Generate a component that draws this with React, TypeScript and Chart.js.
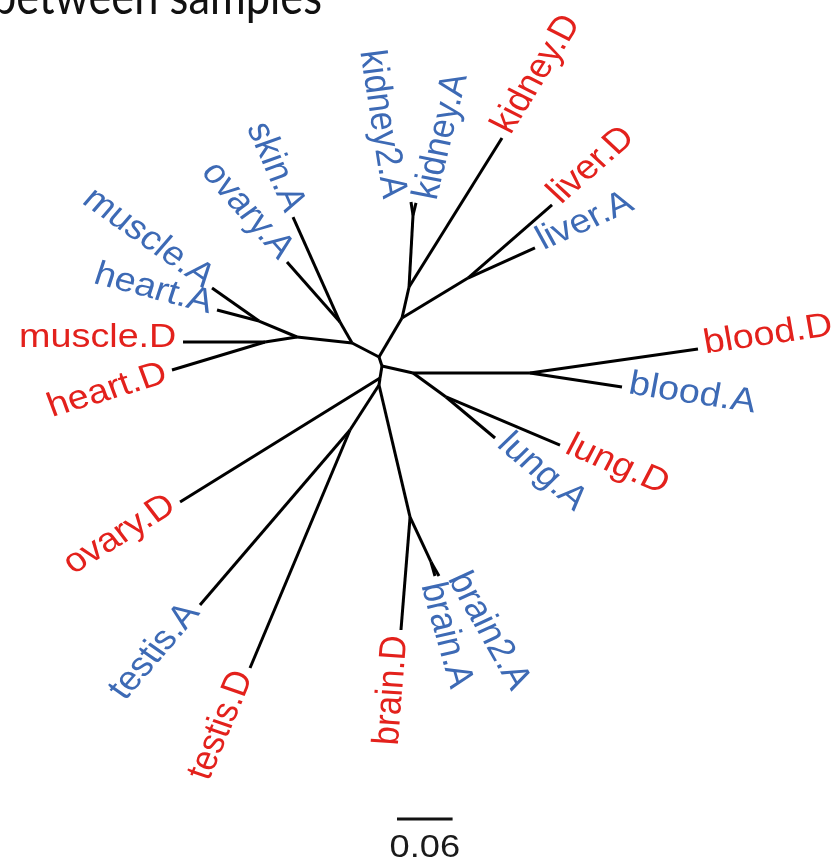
import React, { useEffect, useRef } from "react";
import { Chart, registerables } from "chart.js";

Chart.register(...registerables);

// ---------------- data (tree distances, unrooted layout) ----------------
const TITLE = "between samples";

const INTERNAL_IDS = ["c0", "c1", "c2", "c3", "u1", "so", "mh", "ma", "md", "k1", "k2", "k3", "lv", "r", "bl", "lg", "ts", "br", "ba"];
const INTERNAL_PARENT = [null, "c0", "c1", "c2", "c0", "u1", "u1", "mh", "mh", "c0", "k1", "k2", "k1", "c1", "r", "r", "c3", "c3", "br"];
const INTERNAL_X = [0, 0.0032, 0.0011, 0, -0.0291, -0.0421, -0.0885, -0.1295, -0.123, 0.0248, 0.0324, 0.0367, 0.096, 0.0367, 0.1629, 0.0723, -0.0313, 0.0335, 0.0561];
const INTERNAL_Y = [0, -0.0117, -0.0272, -0.0363, 0.0181, 0.0453, 0.0259, 0.0466, 0.0194, 0.0505, 0.0907, 0.1839, 0.1023, -0.0207, -0.0207, -0.0518, -0.0946, -0.2073, -0.2655];

const TIP_LABELS = ["skin.A", "ovary.A", "muscle.A", "heart.A", "muscle.D", "heart.D", "kidney2.A", "kidney.A", "kidney.D", "liver.D", "liver.A", "blood.D", "blood.A", "lung.A", "lung.D", "brain.A", "brain2.A", "brain.D", "ovary.D", "testis.A", "testis.D"];
const TIP_PARENT = ["so", "so", "ma", "ma", "md", "md", "k3", "k3", "k2", "lv", "lv", "bl", "bl", "lg", "lg", "ba", "ba", "br", "c2", "ts", "ts"];
const TIP_X = [-0.0928, -0.0993, -0.1802, -0.1748, -0.2115, -0.2234, 0.0345, 0.0399, 0.1327, 0.1867, 0.1683, 0.3442, 0.2622, 0.1252, 0.1953, 0.0604, 0.0647, 0.0237, -0.2147, -0.1932, -0.1392];
const TIP_Y = [0.1813, 0.1231, 0.0894, 0.0609, 0.0194, -0.0168, 0.2008, 0.1995, 0.2837, 0.1969, 0.1412, 0.0104, -0.0389, -0.1049, -0.114, -0.2837, -0.2837, -0.3536, -0.1878, -0.3212, -0.4028];

const SCALE_LABEL = "0.06";
const SCALE_LENGTH = 0.06;
const SCALE_START_X = 0.0194;
const SCALE_Y = -0.5984;

// ---------------- view / style ----------------
const X_MIN = -0.409;
const X_MAX = 0.4899;
const Y_MIN = -0.6541;
const Y_MAX = 0.4624;

const STRETCH = 1.11;
const LABEL_SIZE = 34;
const LABEL_GAP = 6;
const LABEL_LIFT = 4;
const LABEL_NUDGE: Record<string, number> = {
  "kidney2.A": 19,
  "kidney.A": 12,
  "brain.A": 9,
  "brain2.A": -11,
  "heart.D": 5,
};
const RED = "#E3211C";
const BLUE = "#3D6AB5";
const LINE = "#000000";

function nodePos(id: string) {
  const i = INTERNAL_IDS.indexOf(id);
  return { x: INTERNAL_X[i], y: INTERNAL_Y[i] };
}

function buildEdges() {
  const edges: { x: number; y: number }[][] = [];
  INTERNAL_IDS.forEach((id, i) => {
    const p = INTERNAL_PARENT[i];
    if (p) edges.push([nodePos(p), { x: INTERNAL_X[i], y: INTERNAL_Y[i] }]);
  });
  TIP_LABELS.forEach((_, i) => {
    edges.push([nodePos(TIP_PARENT[i]), { x: TIP_X[i], y: TIP_Y[i] }]);
  });
  return edges;
}

const labelPlugin = {
  id: "treeLabels",
  afterDatasetsDraw(chart: any) {
    const ctx: CanvasRenderingContext2D = chart.ctx;
    const xs = chart.scales.x;
    const ys = chart.scales.y;

    // tip labels
    ctx.save();
    ctx.font = `${LABEL_SIZE}px "Liberation Sans", Arial, sans-serif`;
    ctx.textBaseline = "middle";
    TIP_LABELS.forEach((label, i) => {
      const par = nodePos(TIP_PARENT[i]);
      const tx = xs.getPixelForValue(TIP_X[i]);
      const ty = ys.getPixelForValue(TIP_Y[i]);
      const px = xs.getPixelForValue(par.x);
      const py = ys.getPixelForValue(par.y);
      const theta = Math.atan2(ty - py, (tx - px) / STRETCH);
      const flip = Math.cos(theta) < 0;
      ctx.save();
      ctx.translate(tx, ty);
      ctx.scale(STRETCH, 1);
      ctx.rotate(flip ? theta + Math.PI : theta);
      ctx.textAlign = flip ? "right" : "left";
      ctx.fillStyle = label.endsWith(".D") ? RED : BLUE;
      const nudge = LABEL_NUDGE[label] ?? 0;
      ctx.fillText(label, flip ? -LABEL_GAP : LABEL_GAP, -LABEL_LIFT + nudge);
      ctx.restore();
    });
    ctx.restore();

    // scale bar label
    ctx.save();
    const cx = xs.getPixelForValue(SCALE_START_X + SCALE_LENGTH / 2);
    const cy = ys.getPixelForValue(SCALE_Y);
    ctx.translate(cx, cy + 38);
    ctx.scale(1.17, 1);
    ctx.font = `31px "Liberation Sans", Arial, sans-serif`;
    ctx.textAlign = "center";
    ctx.textBaseline = "alphabetic";
    ctx.fillStyle = "#1a1a1a";
    ctx.fillText(SCALE_LABEL, 0, 0);
    ctx.restore();

    // cropped title
    ctx.save();
    ctx.font = `50px Lato, "Open Sans", sans-serif`;
    const w = ctx.measureText(TITLE).width;
    ctx.translate(-8, 13.5);
    ctx.scale(330 / w, 1);
    ctx.textAlign = "left";
    ctx.textBaseline = "alphabetic";
    ctx.fillStyle = "#111111";
    ctx.fillText(TITLE, 0, 0);
    ctx.restore();
  },
};

export default function App() {
  const ref = useRef<HTMLCanvasElement>(null);

  useEffect(() => {
    if (!ref.current) return;
    const edges = buildEdges();
    const datasets: any[] = edges.map((e) => ({
      data: e,
      showLine: true,
      borderColor: LINE,
      borderWidth: 3,
      pointRadius: 0,
      borderCapStyle: "butt",
    }));
    datasets.push({
      data: [
        { x: SCALE_START_X, y: SCALE_Y },
        { x: SCALE_START_X + SCALE_LENGTH, y: SCALE_Y },
      ],
      showLine: true,
      borderColor: "#111111",
      borderWidth: 3,
      pointRadius: 0,
    });

    const chart = new Chart(ref.current, {
      type: "scatter",
      data: { datasets },
      options: {
        responsive: false,
        animation: false,
        events: [],
        layout: { padding: 0 },
        plugins: {
          legend: { display: false },
          tooltip: { enabled: false },
          title: { display: false },
        },
        scales: {
          x: { type: "linear", min: X_MIN, max: X_MAX, display: false },
          y: { type: "linear", min: Y_MIN, max: Y_MAX, display: false },
        },
      },
      plugins: [labelPlugin],
    } as any);
    return () => chart.destroy();
  }, []);

  return (
    <div style={{ position: "absolute", left: 0, top: 0, width: 833, height: 862, background: "#fff" }}>
      <canvas ref={ref} width={833} height={862} style={{ display: "block" }} />
    </div>
  );
}
